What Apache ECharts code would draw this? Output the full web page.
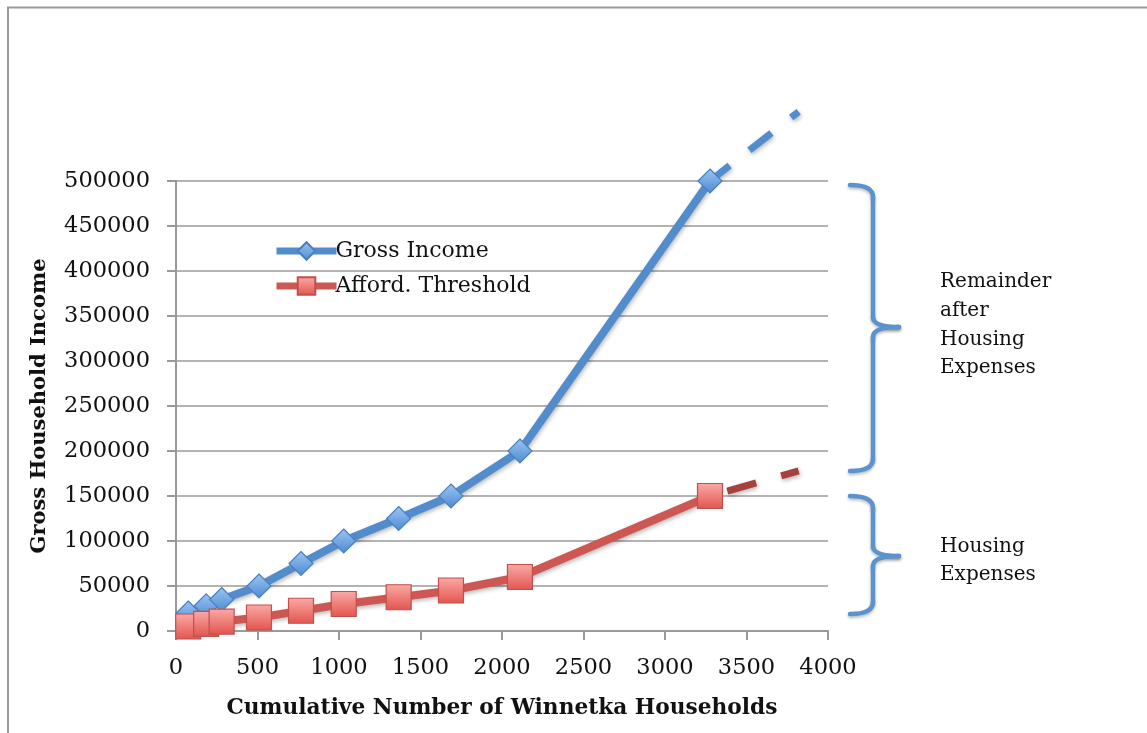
<!DOCTYPE html>
<html>
<head>
<meta charset="utf-8">
<script src="https://cdn.jsdelivr.net/npm/echarts@6/dist/echarts.min.js"></script>
<style>
  html, body { margin: 0; padding: 0; background: #fff; }
  #chart { width: 1147px; height: 733px; }
</style>
</head>
<body>
<div id="chart"></div>
<script>
// Cumulative household counts and the two income measures at each step
const households = [75, 185, 280, 509, 767, 1029, 1366, 1687, 2110, 3276];
const grossIncome = [20000, 28000, 35000, 50000, 75000, 100000, 125000, 150000, 200000, 500000];
const affordThreshold = [5000, 8000, 10500, 15000, 22500, 30000, 37500, 45000, 60000, 150000];

// Dashed projections beyond the last bracket
const projHouseholds = [3276, 3820];
const incomeProjection = [500000, 577000];
const thresholdProjection = [150000, 178000];

// Axis range / tick spacing
const xMin = 0, xMax = 4000, xStep = 500;
const yMin = 0, yMax = 500000, yStep = 50000;

// Side notes next to the braces
const remainderNote = ['Remainder', 'after', 'Housing', 'Expenses'];
const housingNote = ['Housing', 'Expenses'];

const FONT = 'DejaVu Serif';
const BLUE = '#528ccb';
const RED = '#cd5752';
const BRACE = '#5b93cf';

const pairs = (xs, ys) => xs.map((x, i) => [x, ys[i]]);
const plain = v => String(v);

const chart = echarts.init(document.getElementById('chart'), null, { renderer: 'canvas' });

// curly brace opening to the left, tip pointing right, built from lines and curves
function brace(x0, top, bottom, mid, spineX, tipX) {
  const style = { stroke: BRACE, lineWidth: 4.5, lineCap: 'round', fill: 'none',
    shadowColor: 'rgba(0,0,0,0.25)', shadowBlur: 3, shadowOffsetY: 2 };
  const curve = (x1, y1, cx, cy, x2, y2) => ({ type: 'bezierCurve', silent: true,
    shape: { x1: x1, y1: y1, cpx1: cx, cpy1: cy, x2: x2, y2: y2 }, style: style });
  const seg = (x1, y1, x2, y2) => ({ type: 'line', silent: true,
    shape: { x1: x1, y1: y1, x2: x2, y2: y2 }, style: style });
  return [
    curve(x0, top, spineX, top, spineX, top + 12),
    seg(spineX, top + 12, spineX, mid - 10),
    curve(spineX, mid - 10, spineX, mid, tipX, mid),
    curve(tipX, mid, spineX, mid, spineX, mid + 10),
    seg(spineX, mid + 10, spineX, bottom - 12),
    curve(spineX, bottom - 12, spineX, bottom, x0, bottom)
  ];
}

function noteLines(lines, x, y0, step) {
  return lines.map((t, i) => ({
    type: 'text',
    left: x,
    top: y0 + i * step,
    style: { text: t, font: '20px "' + FONT + '"', fill: '#111' }
  }));
}

const lineShadow = { shadowColor: 'rgba(0,0,0,0.28)', shadowBlur: 4, shadowOffsetY: 2, shadowOffsetX: 1 };

chart.setOption({
  animation: false,
  backgroundColor: '#fff',
  grid: { left: 176, right: 319, top: 181, bottom: 102, containLabel: false },
  legend: {
    orient: 'vertical',
    left: 268,
    top: 235,
    itemWidth: 60,
    itemHeight: 22,
    itemGap: 13,
    data: ['Gross Income', 'Afford. Threshold'],
    lineStyle: { width: 7 },
    textStyle: { fontFamily: FONT, fontSize: 22, color: '#111', padding: [0, 0, 0, -6] }
  },
  xAxis: {
    type: 'value',
    min: xMin, max: xMax, interval: xStep,
    name: 'Cumulative Number of Winnetka Households',
    nameLocation: 'middle',
    nameGap: 66,
    nameTextStyle: { fontFamily: FONT, fontSize: 21.7, fontWeight: 'bold', color: '#111' },
    axisLine: { show: true, lineStyle: { color: '#999', width: 2 } },
    axisTick: { show: true, length: 9, lineStyle: { color: '#999', width: 2 } },
    axisLabel: { fontFamily: FONT, fontSize: 22.5, color: '#111', margin: 26, formatter: plain },
    splitLine: { show: false }
  },
  yAxis: {
    type: 'value',
    min: yMin, max: yMax, interval: yStep,
    name: 'Gross Household Income',
    nameLocation: 'middle',
    nameGap: 126,
    nameTextStyle: { fontFamily: FONT, fontSize: 21, fontWeight: 'bold', color: '#111' },
    axisLine: { show: true, lineStyle: { color: '#999', width: 2 } },
    axisTick: { show: true, length: 9, lineStyle: { color: '#999', width: 2 } },
    axisLabel: { fontFamily: FONT, fontSize: 22.5, color: '#111', margin: 26, formatter: plain },
    splitLine: { show: true, lineStyle: { color: '#9a9a9a', width: 1.6 } }
  },
  series: [
    {
      name: 'income projection',
      type: 'line',
      data: pairs(projHouseholds, incomeProjection),
      showSymbol: false,
      silent: true,
      clip: false,
      z: 1,
      lineStyle: Object.assign({ color: BLUE, width: 7, type: [28, 25], dashOffset: 3, cap: 'butt' }, lineShadow)
    },
    {
      name: 'threshold projection',
      type: 'line',
      data: pairs(projHouseholds, thresholdProjection),
      showSymbol: false,
      silent: true,
      clip: false,
      z: 1,
      lineStyle: Object.assign({ color: '#a8413e', width: 7, type: [30, 26], dashOffset: 38, cap: 'butt' }, lineShadow)
    },
    {
      name: 'Gross Income',
      type: 'line',
      data: pairs(households, grossIncome),
      symbol: 'diamond',
      symbolSize: 24,
      clip: false,
      z: 2,
      lineStyle: Object.assign({ color: BLUE, width: 8, join: 'round' }, lineShadow),
      itemStyle: {
        color: { type: 'linear', x: 0, y: 0, x2: 0, y2: 1,
          colorStops: [{ offset: 0, color: '#9cc6f3' }, { offset: 1, color: '#4d89d2' }] },
        borderColor: '#4a7fbf',
        borderWidth: 1.2
      }
    },
    {
      name: 'Afford. Threshold',
      type: 'line',
      data: pairs(households, affordThreshold),
      symbol: 'rect',
      symbolSize: 25,
      clip: false,
      z: 3,
      lineStyle: Object.assign({ color: RED, width: 8, join: 'round' }, lineShadow),
      itemStyle: {
        color: { type: 'linear', x: 0, y: 0, x2: 0, y2: 1,
          colorStops: [{ offset: 0, color: '#fbaaa6' }, { offset: 1, color: '#e2544f' }] },
        borderColor: '#c24f4b',
        borderWidth: 1.2
      }
    }
  ],
  graphic: [
    // outer frame (top and left edges visible)
    { type: 'rect', shape: { x: 8, y: 7.5, width: 1400, height: 1000 },
      style: { fill: 'none', stroke: '#9a9a9a', lineWidth: 2 }, silent: true }
  ].concat(
    brace(850, 185, 471, 327, 873, 899),
    brace(850, 496, 614, 556, 873, 899),
    noteLines(remainderNote, 940, 272, 28.7),
    noteLines(housingNote, 940, 537, 27.5)
  )
});
</script>
</body>
</html>
